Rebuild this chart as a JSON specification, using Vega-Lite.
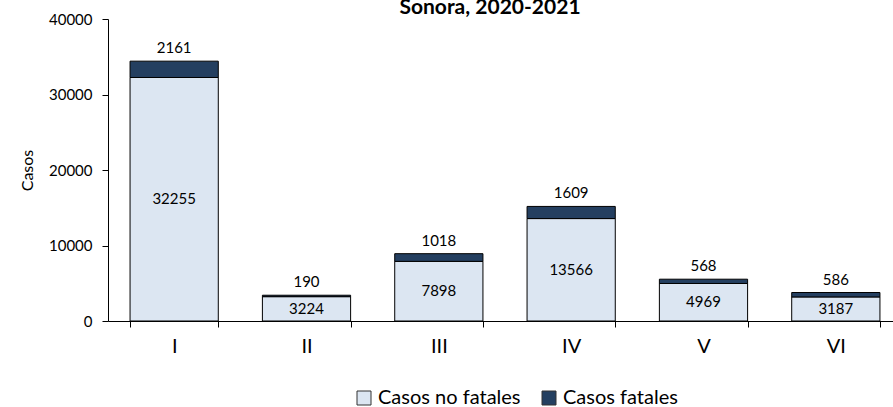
{
  "$schema": "https://vega.github.io/schema/vega-lite/v6.json",
  "autosize": "none",
  "width": 794,
  "height": 302,
  "padding": {"left": 108, "top": 19, "right": 0, "bottom": 86},
  "background": "white",
  "config": {
    "font": "Lato",
    "view": {"stroke": null}
  },
  "title": {
    "text": "Sonora, 2020-2021",
    "fontSize": 21,
    "fontWeight": "bold",
    "color": "black",
    "anchor": "middle",
    "frame": "group",
    "baseline": "alphabetic",
    "offset": 0,
    "dx": -15,
    "dy": 23
  },
  "data": {
    "values": [
      {"cat": "I", "tipo": "Casos no fatales", "casos": 32255},
      {"cat": "I", "tipo": "Casos fatales", "casos": 2161},
      {"cat": "II", "tipo": "Casos no fatales", "casos": 3224},
      {"cat": "II", "tipo": "Casos fatales", "casos": 190},
      {"cat": "III", "tipo": "Casos no fatales", "casos": 7898},
      {"cat": "III", "tipo": "Casos fatales", "casos": 1018},
      {"cat": "IV", "tipo": "Casos no fatales", "casos": 13566},
      {"cat": "IV", "tipo": "Casos fatales", "casos": 1609},
      {"cat": "V", "tipo": "Casos no fatales", "casos": 4969},
      {"cat": "V", "tipo": "Casos fatales", "casos": 568},
      {"cat": "VI", "tipo": "Casos no fatales", "casos": 3187},
      {"cat": "VI", "tipo": "Casos fatales", "casos": 586}
    ]
  },
  "encoding": {
    "x": {
      "field": "cat",
      "type": "nominal",
      "sort": ["I", "II", "III", "IV", "V", "VI"],
      "scale": {"paddingInner": 0.3333, "paddingOuter": 0.1667},
      "axis": {
        "title": null,
        "labelAngle": 0,
        "labelFontSize": 20,
        "labelColor": "black",
        "labelPadding": 9,
        "tickBand": "extent",
        "tickSize": 6,
        "tickColor": "black",
        "domainColor": "black",
        "grid": false
      }
    }
  },
  "layer": [
    {
      "mark": {"type": "bar", "stroke": "black", "strokeWidth": 1},
      "encoding": {
        "y": {
          "field": "casos",
          "type": "quantitative",
          "stack": "zero",
          "scale": {"domain": [0, 40000]},
          "axis": {
            "title": "Casos",
            "titleFontSize": 16,
            "titleFontWeight": "normal",
            "titleColor": "black",
            "titlePadding": 13,
            "values": [0, 10000, 20000, 30000, 40000],
            "format": "d",
            "labelFontSize": 15,
            "labelColor": "black",
            "labelPadding": 10,
            "tickSize": 6,
            "tickColor": "black",
            "domainColor": "black",
            "grid": false
          }
        },
        "color": {
          "field": "tipo",
          "type": "nominal",
          "scale": {"domain": ["Casos no fatales", "Casos fatales"], "range": ["#dce6f2", "#243f60"]},
          "legend": {
            "title": null,
            "orient": "none",
            "direction": "horizontal",
            "legendX": 246,
            "legendY": 369,
            "symbolType": "square",
            "symbolSize": 196,
            "symbolStrokeColor": "#333333",
            "symbolStrokeWidth": 1,
            "labelFontSize": 20,
            "labelColor": "black",
            "labelOffset": 4,
            "columnPadding": 18
          }
        },
        "order": {"field": "tipo", "sort": "descending"}
      }
    },
    {
      "transform": [
        {"stack": "casos", "groupby": ["cat"], "sort": [{"field": "tipo", "order": "descending"}], "as": ["y0", "y1"]},
        {"filter": {"field": "tipo", "equal": "Casos fatales"}}
      ],
      "mark": {"type": "text", "baseline": "alphabetic", "dy": -8, "fontSize": 15, "color": "black"},
      "encoding": {
        "y": {"field": "y1", "type": "quantitative", "scale": {"domain": [0, 40000]}, "axis": null},
        "text": {"field": "casos", "type": "quantitative", "format": "d"}
      }
    },
    {
      "transform": [
        {"filter": {"field": "tipo", "equal": "Casos no fatales"}}
      ],
      "mark": {"type": "text", "baseline": "middle", "fontSize": 15, "color": "black"},
      "encoding": {
        "y": {"field": "casos", "type": "quantitative", "scale": {"domain": [0, 80000]}, "axis": null},
        "text": {"field": "casos", "type": "quantitative", "format": "d"}
      }
    }
  ],
  "resolve": {"scale": {"y": "independent"}}
}
